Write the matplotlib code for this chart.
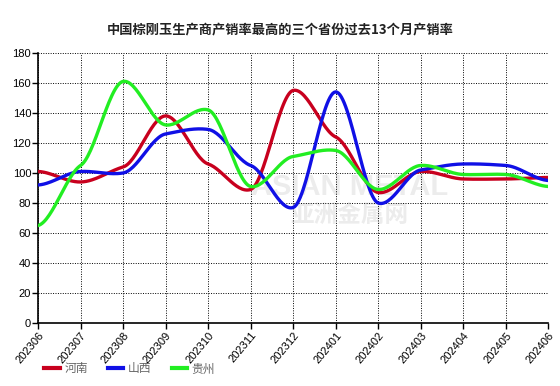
import numpy as np
import matplotlib
matplotlib.use("Agg")
import matplotlib.pyplot as plt
from matplotlib.lines import Line2D

plt.rcParams['font.family'] = ['Liberation Sans', 'Noto Sans CJK SC', 'DejaVu Sans']

months = ['202306', '202307', '202308', '202309', '202310', '202311', '202312',
          '202401', '202402', '202403', '202404', '202405', '202406']
henan = [101, 94, 104, 138, 106, 89, 155, 124, 87, 101, 96, 96, 97]
shanxi = [92, 101, 100, 126, 129, 105, 77, 154, 80, 102, 106, 105, 95]
guizhou = [65, 105, 161, 132, 142, 91, 111, 115, 89, 105, 99, 99, 91]

series = [('河南', henan, '#c8001e'), ('山西', shanxi, '#1010e6'), ('贵州', guizhou, '#22ee22')]


def smooth(y, s=0.38, n=30):
    # cardinal spline through the points, low tension so peaks stay sharp
    y = np.asarray(y, float)
    p = np.concatenate([[y[0]], y, [y[-1]]])
    m = s * (p[2:] - p[:-2]) / 2
    xs, ys = [], []
    for i in range(len(y) - 1):
        t = np.linspace(0, 1, n, endpoint=False)
        h00 = 2 * t ** 3 - 3 * t ** 2 + 1
        h10 = t ** 3 - 2 * t ** 2 + t
        h01 = -2 * t ** 3 + 3 * t ** 2
        h11 = t ** 3 - t ** 2
        xs.append(i + t)
        ys.append(h00 * y[i] + h10 * m[i] + h01 * y[i + 1] + h11 * m[i + 1])
    xs.append([len(y) - 1])
    ys.append([y[-1]])
    return np.concatenate(xs), np.concatenate(ys)


fig = plt.figure(figsize=(5.6, 3.86), dpi=100)
ax = fig.add_axes([0.068, 0.163, 0.911, 0.700])

# watermark
ax.text(0.61, 0.505, 'ASIAN METAL', transform=ax.transAxes, fontsize=21, fontweight='bold',
        color='#ececec', ha='center', va='center', zorder=0)
ax.text(0.61, 0.40, '亚洲金属网', transform=ax.transAxes, fontsize=17, fontweight='bold',
        color='#ececec', ha='center', va='center', zorder=0, family='Noto Sans CJK SC')

x = np.arange(len(months))
for name, vals, c in series:
    sx, sy = smooth(vals)
    ax.plot(sx, sy, color=c, lw=2.4, solid_capstyle='round', zorder=3)

ax.set_xlim(0, len(months) - 1)
ax.set_ylim(0, 180)
ax.set_yticks(np.arange(0, 181, 20))
ax.set_xticks(x)
ax.set_xticklabels(months, rotation=50, ha='right', rotation_mode='anchor')
ax.tick_params(labelsize=8, length=4, width=1, color='black', direction='out', pad=1)
ax.grid(True, color='black', linestyle=(0, (1, 1.5)), linewidth=0.7)
for s in ['top', 'right']:
    ax.spines[s].set_visible(False)
for s in ['left', 'bottom']:
    ax.spines[s].set_linewidth(1.2)

fig.text(0.5, 0.925, '中国棕刚玉生产商产销率最高的三个省份过去13个月产销率', ha='center', va='center',
         fontsize=9.5, fontweight='bold', family='Noto Sans CJK SC', color='#222222')

handles = [Line2D([0], [0], color=c, lw=3) for _, _, c in series]
leg = fig.legend(handles, [n for n, _, _ in series], loc='lower left', bbox_to_anchor=(0.06, 0.0),
                 ncol=3, frameon=False, handlelength=1.3, columnspacing=1.7,
                 handletextpad=0.4, prop={'family': 'Noto Sans CJK SC', 'size': 8.5})
for t in leg.get_texts():
    t.set_color('#666666')

fig.savefig('out.png', dpi=100)
